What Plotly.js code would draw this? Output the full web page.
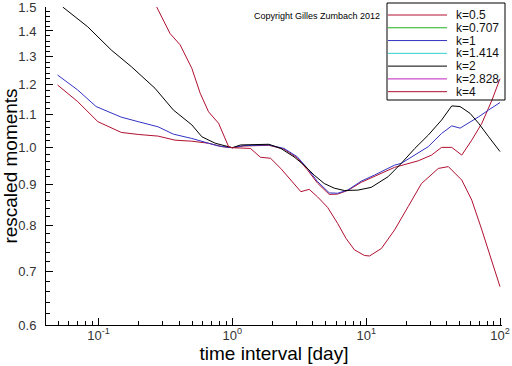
<!DOCTYPE html>
<html><head><meta charset="utf-8">
<script src="https://cdn.plot.ly/plotly-3.0.1.min.js"></script>
<style>html,body{margin:0;padding:0;background:#fff}#chart{width:512px;height:366px}</style>
</head><body><div id="chart"></div>
<script>
// ---- data ----
const seriesNames = ['k=0.5', 'k=0.707', 'k=1', 'k=1.414', 'k=2', 'k=2.828', 'k=4'];

const x_k05 = [0.0494, 0.0699, 0.0988, 0.148, 0.198, 0.279, 0.373, 0.498, 0.664, 0.837, 1.0,
  1.216, 1.875, 2.43, 3.06, 3.64, 4.33, 5.30, 6.12, 7.28, 9.17, 11.5, 16.3, 24.5, 30.8, 36.6, 43.6, 51.8, 61.5, 73.2, 87.1, 100];
const y_k05 = [1.198, 1.142, 1.078, 1.045, 1.039, 1.034, 1.022, 1.019, 1.013, 1.003, 1.0,
  1.005, 1.007, 0.996, 0.971, 0.938, 0.903, 0.874, 0.875, 0.884, 0.905, 0.920, 0.945, 0.963, 0.979, 1.001, 1.001, 0.979, 1.022, 1.073, 1.147, 1.22];

const x_k0707 = [];
const y_k0707 = [];

const x_k1 = [0.0494, 0.0699, 0.0959, 0.1175, 0.148, 0.198, 0.279, 0.362, 0.498, 0.664, 0.789, 0.938, 1.0,
  1.216, 1.875, 2.43, 3.06, 3.64, 4.33, 5.30, 6.12, 7.28, 9.17, 11.5, 16.3, 18.3, 23.1, 29.1, 36.6, 43.6, 50.3, 58.2, 69.2, 82.3, 100];
const y_k1 = [1.233, 1.181, 1.126, 1.109, 1.092, 1.078, 1.062, 1.040, 1.027, 1.013, 1.005, 1.001, 1.0,
  1.006, 1.008, 0.998, 0.974, 0.942, 0.907, 0.878, 0.877, 0.885, 0.908, 0.924, 0.951, 0.956, 0.979, 1.003, 1.042, 1.065, 1.058, 1.073, 1.093, 1.115, 1.139];

const x_k1414 = [];
const y_k1414 = [];

const x_k2 = [0.054, 0.083, 0.1246, 0.176, 0.264, 0.362, 0.498, 0.592, 0.745, 0.938, 1.0,
  1.15, 1.875, 2.30, 2.89, 3.44, 4.09, 4.86, 5.77, 6.87, 8.66, 10.9, 14.6, 18.3, 23.1, 29.1, 36.6, 43.6, 50.3, 59.8, 69.2, 82.3, 100];
const y_k2 = [1.50, 1.417, 1.325, 1.263, 1.187, 1.115, 1.068, 1.032, 1.013, 1.003, 1.0,
  1.008, 1.010, 0.998, 0.974, 0.951, 0.924, 0.902, 0.890, 0.884, 0.885, 0.892, 0.920, 0.956, 0.998, 1.037, 1.083, 1.128, 1.126, 1.104, 1.073, 1.032, 0.989];

const x_k2828 = [];
const y_k2828 = [];

const x_k4 = [0.272, 0.342, 0.407, 0.498, 0.575, 0.664, 0.789, 0.938, 1.0,
  1.365, 1.62, 1.93, 2.30, 2.73, 3.25, 3.75, 4.33, 5.15, 6.12, 7.07, 8.17, 9.71, 10.6, 13.0, 16.3, 20.6, 25.9, 34.6, 41.1, 51.8, 61.5, 73.2, 87.1, 100];
const y_k4 = [1.50, 1.390, 1.345, 1.257, 1.170, 1.109, 1.073, 1.003, 1.0,
  0.998, 0.973, 0.970, 0.942, 0.911, 0.881, 0.887, 0.868, 0.842, 0.804, 0.770, 0.745, 0.733, 0.732, 0.748, 0.789, 0.844, 0.902, 0.942, 0.947, 0.911, 0.860, 0.789, 0.723, 0.670];

const yTickVals = [0.6, 0.7, 0.8, 0.9, 1.0, 1.1, 1.2, 1.3, 1.4, 1.5];
const yTickText = ['0.6', '0.7', '0.8', '0.9', '1.0', '1.1', '1.2', '1.3', '1.4', '1.5'];
const xTickVals = [0.1, 1, 10, 100];
const xTickText = ['10<sup>-1</sup>', '10<sup>0</sup>', '10<sup>1</sup>', '10<sup>2</sup>'];

// ---- styles ----
const seriesColors = ['#b01030', '#20b020', '#3333c4', '#30d0d0', '#000000', '#c020c0', '#b01030'];
const FONT = 'Liberation Sans, Arial, Helvetica, sans-serif';

const xs = [x_k05, x_k0707, x_k1, x_k1414, x_k2, x_k2828, x_k4];
const ys = [y_k05, y_k0707, y_k1, y_k1414, y_k2, y_k2828, y_k4];

const traces = seriesNames.map((n, i) => ({
  type: 'scatter', mode: 'lines', name: n, x: xs[i], y: ys[i],
  line: {color: seriesColors[i], width: 1}, showlegend: false, hoverinfo: 'skip'
}));

// minor ticks (axis configuration)
const yMinor = [];
for (let i = 0; i < yTickVals.length - 1; i++)
  for (let j = 1; j <= 4; j++) yMinor.push(+(yTickVals[i] + 0.02 * j).toFixed(2));
const xMinor = [];
[0.01, 0.1, 1, 10].forEach(d => { for (let m = 2; m <= 9; m++) xMinor.push(+(m * d).toPrecision(3)); });

// geometry
const W = 512, H = 366, ML = 46, MR = 10, MT = 7, MB = 41;
const PW = W - ML - MR, PH = H - MT - MB;
const px = p => (p - ML) / PW;
const py = p => (H - MB - p) / PH;

// custom legend (box, sample lines, labels)
const shapes = [{
  type: 'rect', xref: 'paper', yref: 'paper', x0: px(387), x1: px(505), y0: py(100), y1: py(3),
  line: {color: '#000', width: 1}, fillcolor: 'rgba(0,0,0,0)', layer: 'above'
}];
const annotations = [];
const rowY0 = 15, rowStep = 12.78;
seriesNames.forEach((n, i) => {
  const yy = rowY0 + i * rowStep;
  shapes.push({type: 'line', xref: 'paper', yref: 'paper', x0: px(388), x1: px(447), y0: py(yy), y1: py(yy),
    line: {color: seriesColors[i], width: 1}, layer: 'above'});
  annotations.push({xref: 'paper', yref: 'paper', x: px(455), y: py(yy), xanchor: 'left', yanchor: 'middle',
    text: n, showarrow: false, borderpad: 0, font: {family: FONT, size: 12, color: '#111'}});
});
annotations.push({xref: 'paper', yref: 'paper', x: px(316.5), y: py(15.5), xanchor: 'center', yanchor: 'middle',
  text: 'Copyright Gilles Zumbach 2012', showarrow: false, font: {family: FONT, size: 9, color: '#000'}});

const layout = {
  width: W, height: H,
  margin: {l: ML, r: MR, t: MT, b: MB, pad: 0},
  paper_bgcolor: '#fff', plot_bgcolor: '#fff',
  showlegend: false,
  font: {family: FONT, color: '#000'},
  xaxis: {
    type: 'log', range: [Math.log10(0.0405), Math.log10(103.5)],
    showgrid: false, zeroline: false, showline: true, linecolor: '#000', linewidth: 1, mirror: false,
    tickmode: 'array', tickvals: xTickVals, ticktext: xTickText,
    ticks: 'inside', ticklen: 7, tickcolor: '#000', tickwidth: 1,
    ticklabelstandoff: -2, ticklabeloverflow: 'allow',
    tickfont: {family: FONT, size: 13, color: '#333'},
    minor: {tickmode: 'array', tickvals: xMinor, ticks: 'inside', ticklen: 4, tickcolor: '#000', tickwidth: 1, showgrid: false},
    title: {text: 'time interval [day]', font: {family: FONT, size: 19, color: '#000'}, standoff: 4},
    fixedrange: true
  },
  yaxis: {
    type: 'log', range: [Math.log10(0.6) - 0.00002, Math.log10(1.5) + 0.00002],
    showgrid: false, zeroline: false, showline: true, linecolor: '#000', linewidth: 1, mirror: false,
    tickmode: 'array', tickvals: yTickVals, ticktext: yTickText,
    ticks: 'inside', ticklen: 7, tickcolor: '#000', tickwidth: 1,
    ticklabelstandoff: 6, ticklabeloverflow: 'allow',
    tickfont: {family: FONT, size: 13, color: '#333'},
    minor: {tickmode: 'array', tickvals: yMinor, ticks: 'inside', ticklen: 4, tickcolor: '#000', tickwidth: 1, showgrid: false},
    title: {text: 'rescaled moments', font: {family: FONT, size: 19, color: '#000'}, standoff: 2},
    fixedrange: true
  },
  shapes: shapes,
  annotations: annotations
};

Plotly.newPlot('chart', traces, layout, {staticPlot: true, displayModeBar: false});
</script>
</body></html>
